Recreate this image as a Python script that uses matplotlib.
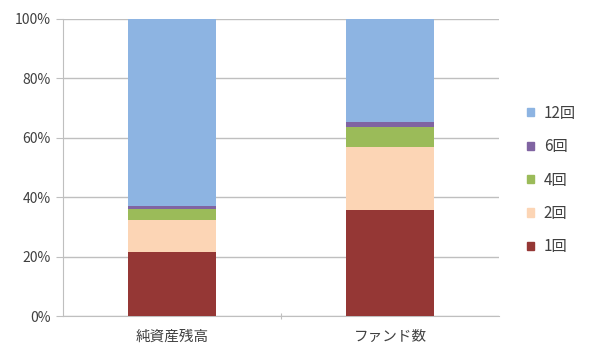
import matplotlib
matplotlib.use("Agg")
import matplotlib.pyplot as plt
from matplotlib.ticker import PercentFormatter
from matplotlib.patches import Patch

plt.rcParams['font.family'] = ['Noto Sans CJK JP', 'DejaVu Sans']

categories = ['純資産残高', 'ファンド数']
series_names = ['1回', '2回', '4回', '6回', '12回']
v_1 = [21.6, 35.8]
v_2 = [10.6, 21.0]
v_4 = [3.9, 6.8]
v_6 = [0.8, 1.8]
v_12 = [63.1, 34.6]
colors = ['#953735', '#FCD5B5', '#9BBB59', '#8064A2', '#8DB4E2']

fig = plt.figure(figsize=(6.0, 3.59), dpi=100)
ax = fig.add_axes([63/600, 1-316/359, 436/600, (316-19)/359])

x = [0, 1]
bottom = [0, 0]
handles = []
for name, vals, c in zip(series_names, [v_1, v_2, v_4, v_6, v_12], colors):
    ax.bar(x, vals, bottom=bottom, width=0.4, color=c, zorder=3)
    bottom = [b + v for b, v in zip(bottom, vals)]
    handles.append(Patch(color=c, label=name))

ax.set_xlim(-0.5, 1.5)
ax.set_ylim(0, 100)
ax.set_yticks([0, 20, 40, 60, 80, 100])
ax.yaxis.set_major_formatter(PercentFormatter(decimals=0))
ax.grid(axis='y', color='#BFBFBF', linewidth=1, zorder=0)
for s in ['top', 'right']:
    ax.spines[s].set_visible(False)
ax.spines['left'].set_color('#BFBFBF')
ax.spines['bottom'].set_color('#BFBFBF')
ax.tick_params(axis='y', length=5, color='#BFBFBF', labelsize=10, labelcolor='#404040', pad=4)
ax.set_xticks([0.5], minor=False)
ax.set_xticklabels([''])
ax.tick_params(axis='x', length=4, color='#BFBFBF', direction='inout')
for xi, lab in zip(x, categories):
    ax.text(xi, -7, lab, ha='center', va='center', fontsize=10.5, color='#404040')

leg = fig.legend(handles=handles[::-1], loc='center left', bbox_to_anchor=(521/600, 1-180/359),
                 frameon=False, fontsize=11, handlelength=0.45, handleheight=0.45,
                 labelspacing=1.07, handletextpad=0.65, borderaxespad=0)
for t in leg.get_texts():
    t.set_color('#404040')

fig.savefig('out.png', dpi=100)
